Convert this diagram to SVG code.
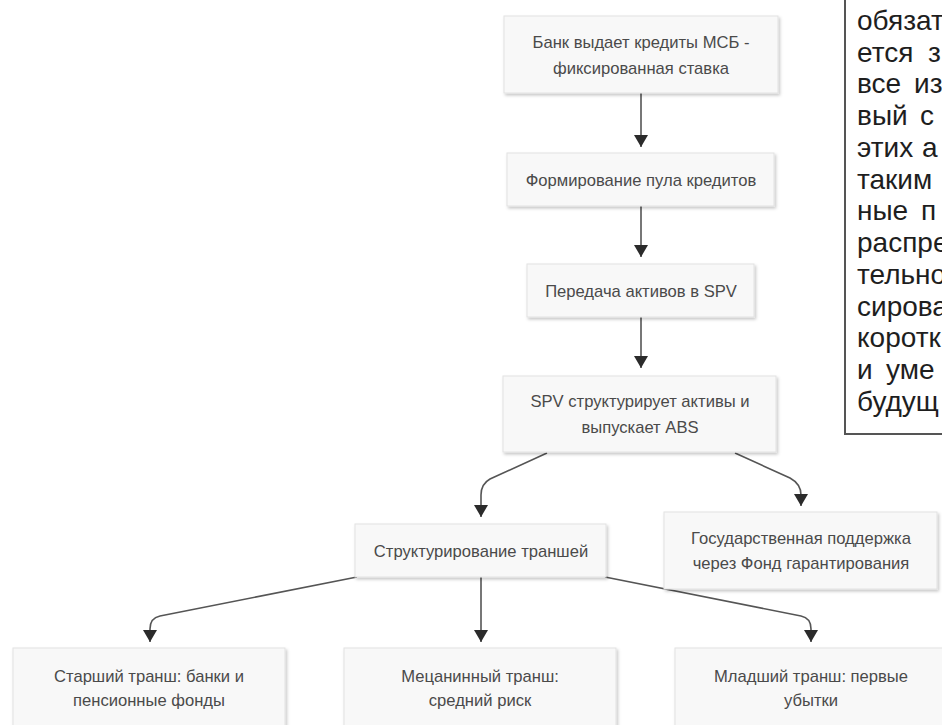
<svg xmlns="http://www.w3.org/2000/svg" width="942" height="725" viewBox="0 0 942 725">
  <defs>
    <filter id="sh" x="-5%" y="-10%" width="115%" height="130%">
      <feDropShadow dx="1.5" dy="2" stdDeviation="1.5" flood-color="#000" flood-opacity="0.22"/>
    </filter>
    <marker id="ah" viewBox="0 0 12 14" markerWidth="12" markerHeight="14" refX="12" refY="7" orient="auto" markerUnits="userSpaceOnUse">
      <path d="M0,0 L12,7 L0,14 z" fill="#2b2b2b"/>
    </marker>
  </defs>
  <style>
    .box { fill: #f8f8f8; stroke: #e2e2e2; stroke-width: 1; filter: url(#sh); }
    .lbl { font-family: "Liberation Sans", Arial, sans-serif; font-size: 16.6px; fill: #4a4a4a; text-anchor: middle; }
    .con { fill: none; stroke: #555555; stroke-width: 1.6; marker-end: url(#ah); }
    .note { font-family: "Liberation Sans", Arial, sans-serif; font-size: 28px; fill: #1e1e1e; }
    .frame { fill: none; stroke: #555555; stroke-width: 2; }
  </style>
  <rect x="0" y="0" width="942" height="725" fill="#ffffff"/>

  <g id="connectors">
    <path class="con" d="M641,93 L641,147"/>
    <path class="con" d="M641,206 L641,257"/>
    <path class="con" d="M641,317 L641,368"/>
    <path class="con" d="M547,453 L490,479 Q481,484 481,495 L481,517"/>
    <path class="con" d="M735,453 L790,478 Q801,484 801,495 L801,506"/>
    <path class="con" d="M357,577 L160,616 Q150,618 150,629 L150,642"/>
    <path class="con" d="M481,577 L481,642"/>
    <path class="con" d="M605,577 L801,616 Q811,618 811,629 L811,642"/>
  </g>

  <g id="n1">
    <rect class="box" x="504" y="16" width="274" height="77"/>
    <text class="lbl" x="641" y="48">Банк выдает кредиты МСБ -</text>
    <text class="lbl" x="641" y="74">фиксированная ставка</text>
  </g>
  <g id="n2">
    <rect class="box" x="507" y="153" width="267" height="53"/>
    <text class="lbl" x="641" y="185.5">Формирование пула кредитов</text>
  </g>
  <g id="n3">
    <rect class="box" x="527" y="264" width="227" height="53"/>
    <text class="lbl" x="641" y="296.5">Передача активов в SPV</text>
  </g>
  <g id="n4">
    <rect class="box" x="503" y="376" width="273" height="76"/>
    <text class="lbl" x="640" y="407">SPV структурирует активы и</text>
    <text class="lbl" x="640" y="432.5">выпускает ABS</text>
  </g>
  <g id="n5">
    <rect class="box" x="355" y="524" width="251" height="53"/>
    <text class="lbl" x="481" y="556.5">Структурирование траншей</text>
  </g>
  <g id="n6">
    <rect class="box" x="664" y="512" width="273" height="77"/>
    <text class="lbl" x="801" y="543.5">Государственная поддержка</text>
    <text class="lbl" x="801" y="568.5">через Фонд гарантирования</text>
  </g>
  <g id="n7">
    <rect class="box" x="13" y="648" width="272" height="80"/>
    <text class="lbl" x="149" y="681.5">Старший транш: банки и</text>
    <text class="lbl" x="149" y="705.5">пенсионные фонды</text>
  </g>
  <g id="n8">
    <rect class="box" x="344" y="648" width="272" height="80"/>
    <text class="lbl" x="480" y="681.5">Мецанинный транш:</text>
    <text class="lbl" x="480" y="705.5">средний риск</text>
  </g>
  <g id="n9">
    <rect class="box" x="675" y="648" width="272" height="80"/>
    <text class="lbl" x="811" y="681.5">Младший транш: первые</text>
    <text class="lbl" x="811" y="705.5">убытки</text>
  </g>

  <g id="note">
    <path class="frame" d="M845,-2 L845,434 L944,434"/>
    <text class="note" x="857" y="30">обязат</text>
    <text class="note" y="62"><tspan x="857">ется</tspan><tspan x="928">з</tspan></text>
    <text class="note" y="93"><tspan x="857">все</tspan><tspan x="914">из</tspan></text>
    <text class="note" y="125"><tspan x="857">вый</tspan><tspan x="920">с</tspan></text>
    <text class="note" y="157"><tspan x="857">этих</tspan><tspan x="922">а</tspan></text>
    <text class="note" x="857" y="189">таким</text>
    <text class="note" y="220"><tspan x="857">ные</tspan><tspan x="921">п</tspan></text>
    <text class="note" x="857" y="252">распре</text>
    <text class="note" x="857" y="284">тельно</text>
    <text class="note" x="857" y="316">сирова</text>
    <text class="note" x="857" y="347">коротк</text>
    <text class="note" y="379"><tspan x="857">и</tspan><tspan x="886">уме</tspan></text>
    <text class="note" x="857" y="411">будущ</text>
  </g>
</svg>
